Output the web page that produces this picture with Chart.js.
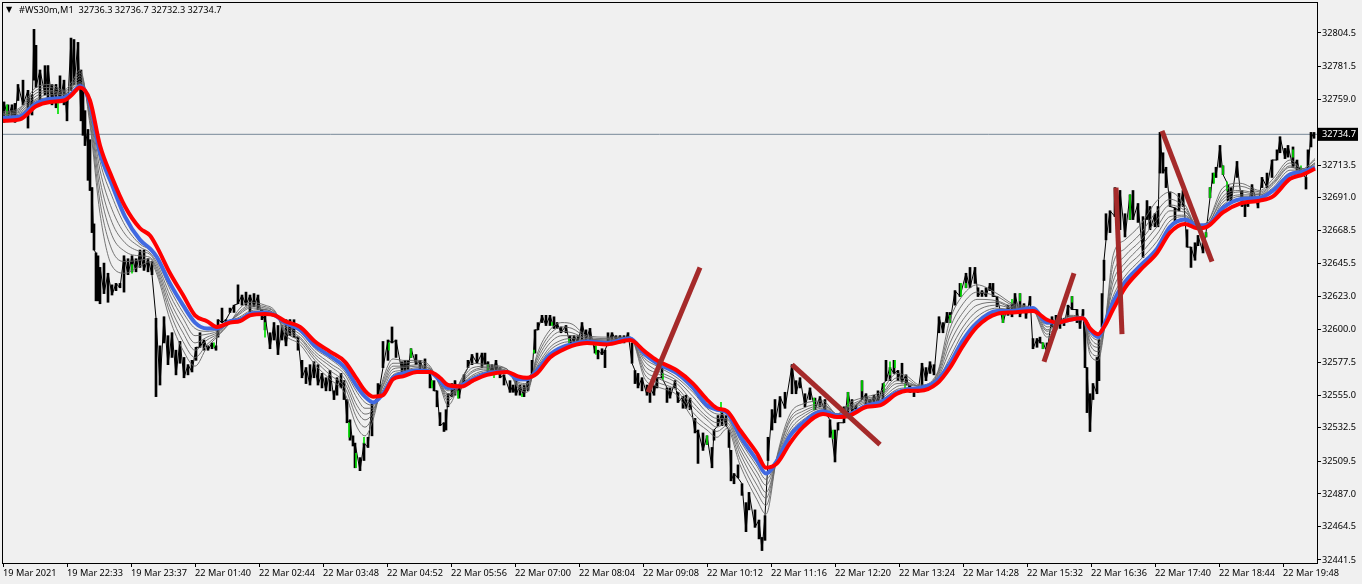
<!DOCTYPE html>
<html>
<head>
<meta charset="utf-8">
<title>#WS30m,M1</title>
<script src="https://cdn.jsdelivr.net/npm/chart.js@4"></script>
<style>
  html, body { margin: 0; padding: 0; background: #f0f0f0; }
  #wrap { width: 1362px; height: 584px; }
  canvas { display: block; }
</style>
</head>
<body>
<div id="wrap"><canvas id="chart"></canvas></div>
<script>
// symbol header
const headerText = '#WS30m,M1  32736.3 32736.7 32732.3 32734.7';
const lastPrice = 32734.7;

// axes
const priceTicks = [32804.5, 32781.5, 32759.0, 32734.7, 32713.5, 32691.0, 32668.5, 32645.5, 32623.0, 32600.0, 32577.5, 32555.0, 32532.5, 32509.5, 32487.0, 32464.5, 32441.5];
const timeTickBars = [3, 67, 131, 195, 259, 323, 387, 451, 515, 579, 643, 707, 771, 835, 899, 963, 1027, 1091, 1155, 1219, 1283];
const timeLabels = ['19 Mar 2021', '19 Mar 22:33', '19 Mar 23:37', '22 Mar 01:40', '22 Mar 02:44', '22 Mar 03:48', '22 Mar 04:52', '22 Mar 05:56', '22 Mar 07:00', '22 Mar 08:04', '22 Mar 09:08', '22 Mar 10:12', '22 Mar 11:16', '22 Mar 12:20', '22 Mar 13:24', '22 Mar 14:28', '22 Mar 15:32', '22 Mar 16:36', '22 Mar 17:40', '22 Mar 18:44', '22 Mar 19:48'];

// price bars (bar number, high, low)
const barX = [4,8,12,15,18,23,28,32,34,36,40,45,48,52,56,60,64,67,71,74,78,81,83,85,88,90,92,94,96,98,100,104,108,112,116,120,124,128,132,136,140,144,148,152,156,160,164,168,172,176,180,184,188,192,196,200,204,208,212,216,218,222,226,230,234,238,242,246,250,254,258,262,265,270,274,278,282,286,290,294,298,302,306,310,314,318,322,326,330,334,337,341,344,347,350,353,355,360,364,368,372,378,380,383,388,392,396,402,405,408,411,416,420,425,430,434,437,440,444,446,448,452,455,459,464,468,472,477,482,485,488,492,496,500,504,510,513,516,520,524,528,532,535,538,542,546,550,554,557,561,566,570,574,578,582,586,590,595,598,602,605,608,612,616,620,624,628,632,635,638,642,647,650,654,657,662,667,670,675,678,683,686,690,695,698,703,707,712,714,718,722,726,729,731,734,738,742,746,749,755,759,762,765,768,772,775,780,785,792,796,800,805,810,815,820,825,830,835,838,844,848,852,856,862,866,870,874,878,883,886,890,894,898,902,906,910,914,918,922,926,930,934,939,943,947,950,955,960,966,970,975,978,982,986,990,993,997,1003,1008,1012,1015,1020,1024,1026,1030,1033,1037,1040,1043,1047,1052,1056,1060,1064,1068,1072,1077,1080,1083,1085,1087,1090,1093,1097,1099,1102,1104,1106,1110,1115,1120,1125,1130,1133,1138,1143,1147,1150,1155,1158,1160,1163,1166,1170,1175,1179,1183,1187,1191,1195,1198,1203,1206,1210,1213,1216,1220,1223,1228,1231,1237,1242,1245,1248,1252,1258,1262,1267,1272,1277,1280,1285,1288,1293,1297,1300,1306,1308,1311,1314];
const barHigh = [32757,32755,32755,32756,32769,32772,32765,32762,32807,32796,32779,32782,32782,32769,32769,32775,32772,32762,32801,32800,32798,32779,32765,32751,32738,32731,32698,32673,32653,32651,32643,32646,32639,32631,32632,32632,32651,32649,32651,32649,32655,32655,32649,32647,32608,32589,32609,32596,32598,32586,32592,32581,32576,32579,32588,32598,32593,32589,32591,32589,32607,32615,32607,32615,32617,32631,32624,32626,32624,32625,32624,32614,32610,32598,32605,32603,32603,32607,32607,32607,32595,32579,32574,32576,32578,32576,32570,32567,32572,32558,32567,32570,32565,32552,32538,32527,32522,32512,32522,32526,32549,32563,32562,32592,32593,32602,32593,32578,32579,32579,32587,32583,32579,32580,32570,32565,32558,32543,32536,32545,32556,32563,32565,32560,32569,32579,32583,32584,32584,32584,32578,32576,32579,32574,32569,32565,32562,32565,32562,32562,32567,32579,32600,32605,32610,32610,32610,32609,32605,32602,32603,32596,32596,32596,32605,32600,32601,32589,32586,32587,32586,32598,32598,32596,32596,32596,32598,32591,32572,32570,32567,32562,32560,32562,32567,32576,32560,32560,32565,32557,32554,32555,32553,32539,32531,32529,32527,32519,32531,32541,32543,32541,32531,32517,32501,32507,32494,32481,32488,32476,32469,32457,32472,32526,32545,32552,32554,32557,32576,32565,32567,32556,32560,32553,32554,32552,32538,32531,32536,32547,32557,32552,32548,32565,32556,32552,32555,32558,32563,32579,32574,32579,32572,32577,32569,32562,32558,32560,32577,32574,32578,32576,32609,32605,32612,32612,32627,32632,32639,32643,32643,32629,32627,32629,32632,32632,32623,32612,32617,32618,32625,32625,32618,32614,32623,32594,32594,32595,32591,32591,32609,32610,32610,32608,32617,32623,32614,32609,32614,32605,32574,32556,32563,32581,32593,32625,32648,32680,32682,32698,32696,32680,32693,32696,32687,32678,32689,32685,32680,32685,32736,32722,32712,32695,32684,32694,32696,32669,32657,32660,32665,32660,32667,32698,32708,32712,32727,32713,32700,32698,32716,32696,32687,32689,32700,32691,32705,32708,32717,32724,32733,32725,32727,32726,32717,32712,32705,32724,32736,32736];
const barLow = [32743,32746,32745,32743,32758,32755,32739,32748,32772,32767,32758,32762,32758,32755,32753,32758,32755,32744,32765,32769,32769,32744,32734,32727,32703,32696,32667,32655,32620,32620,32618,32625,32619,32624,32627,32629,32626,32638,32640,32640,32643,32641,32640,32638,32554,32562,32591,32576,32581,32569,32577,32567,32569,32571,32579,32588,32586,32586,32587,32586,32595,32605,32603,32612,32612,32618,32617,32617,32612,32616,32614,32607,32600,32587,32593,32583,32593,32589,32596,32595,32586,32567,32563,32562,32567,32562,32560,32558,32558,32552,32555,32560,32552,32536,32524,32520,32505,32503,32510,32519,32527,32554,32555,32574,32579,32591,32581,32571,32571,32572,32581,32576,32571,32570,32560,32558,32547,32534,32530,32531,32547,32554,32555,32553,32562,32574,32576,32577,32574,32576,32571,32569,32572,32567,32562,32557,32557,32555,32555,32554,32558,32570,32584,32600,32605,32603,32603,32601,32601,32598,32598,32589,32589,32591,32593,32593,32593,32584,32580,32583,32574,32591,32591,32593,32591,32591,32593,32577,32563,32560,32558,32555,32550,32555,32560,32567,32550,32553,32560,32550,32546,32546,32545,32529,32508,32517,32521,32505,32524,32534,32534,32534,32519,32496,32494,32498,32486,32461,32476,32464,32456,32448,32455,32510,32531,32536,32540,32546,32556,32556,32560,32547,32552,32545,32547,32543,32526,32509,32531,32536,32543,32543,32543,32552,32547,32548,32548,32549,32551,32565,32565,32570,32565,32564,32562,32557,32554,32557,32560,32565,32570,32569,32598,32598,32605,32605,32617,32623,32629,32629,32632,32623,32623,32623,32627,32623,32616,32605,32610,32609,32614,32609,32612,32608,32617,32587,32588,32591,32587,32585,32602,32600,32601,32603,32609,32614,32605,32601,32610,32574,32543,32530,32552,32556,32565,32602,32634,32662,32667,32678,32669,32664,32676,32676,32674,32650,32676,32669,32671,32671,32708,32708,32698,32685,32674,32682,32685,32657,32643,32648,32658,32653,32664,32691,32701,32705,32712,32707,32689,32687,32705,32685,32678,32685,32691,32684,32698,32698,32705,32717,32722,32718,32719,32712,32710,32708,32697,32710,32726,32732];

// bars that closed up on a new high, drawn green
const upX = [7,58,132,214,265,349,356,364,389,411,432,458,488,494,522,534,552,569,596,663,707,721,814,833,848,862,884,890,895,905,950,961,966,1003,1012,1020,1043,1072,1130,1206,1210,1214,1223,1227,1293,1301];
const upHigh = [32755,32756,32645,32591,32605,32536,32515,32526,32591,32587,32565,32558,32576,32569,32556,32586,32605,32594,32589,32570,32527,32550,32553,32531,32557,32565,32563,32578,32579,32563,32610,32632,32632,32610,32621,32625,32591,32623,32693,32667,32698,32708,32713,32702,32724,32713];
const upLow = [32746,32749,32639,32588,32595,32526,32505,32522,32586,32581,32560,32553,32572,32567,32554,32584,32603,32591,32583,32566,32521,32543,32545,32525,32547,32558,32557,32569,32574,32560,32605,32623,32629,32605,32618,32620,32587,32619,32676,32664,32691,32701,32707,32696,32719,32709];

// moving average ribbon, sampled on the same bar numbers
const maX = [3,20,36,50,64,72,80,90,100,112,125,140,150,157,170,183,195,207,217,230,240,250,265,275,285,300,315,330,345,357,365,373,383,393,403,417,430,440,448,462,473,487,507,518,527,537,550,562,572,587,607,630,645,657,677,693,707,717,727,740,757,766,777,790,803,823,837,850,867,880,897,907,920,937,950,963,977,997,1013,1033,1047,1057,1070,1083,1090,1098,1105,1113,1125,1140,1157,1170,1185,1197,1207,1223,1240,1260,1273,1290,1303,1315];
const maRed = [32744,32745,32754,32757,32758,32762,32767,32758,32727,32705,32685,32670,32665,32657,32639,32624,32610,32606,32602,32605,32606,32610,32611,32610,32606,32602,32592,32585,32578,32566,32558,32554,32555,32566,32568,32571,32571,32567,32562,32561,32565,32569,32571,32568,32567,32570,32581,32586,32589,32591,32590,32593,32585,32579,32572,32563,32552,32546,32544,32531,32515,32505,32508,32522,32533,32542,32540,32541,32547,32548,32556,32558,32558,32563,32574,32589,32602,32611,32612,32613,32607,32605,32607,32608,32601,32597,32603,32614,32629,32641,32653,32667,32673,32670,32671,32681,32687,32689,32692,32704,32707,32711];
const maBlue = [32746,32747,32756,32759,32760,32763,32768,32756,32722,32700,32678,32662,32656,32650,32632,32617,32605,32601,32601,32606,32607,32611,32612,32610,32605,32600,32589,32582,32574,32561,32554,32550,32556,32567,32570,32572,32571,32565,32560,32562,32566,32570,32571,32566,32566,32572,32583,32588,32590,32592,32591,32594,32583,32577,32570,32560,32548,32545,32543,32527,32510,32501,32510,32527,32536,32544,32541,32542,32548,32550,32557,32559,32560,32565,32577,32593,32605,32613,32613,32615,32605,32605,32607,32608,32600,32595,32605,32619,32633,32644,32656,32671,32676,32672,32672,32684,32690,32691,32696,32707,32709,32712];
const fan1 = [32746,32748,32758,32760,32761,32764,32770,32754,32716,32692,32672,32659,32655,32648,32628,32612,32601,32599,32600,32606,32608,32612,32613,32610,32604,32599,32587,32580,32571,32557,32550,32548,32557,32569,32571,32573,32572,32564,32558,32563,32568,32571,32571,32565,32565,32574,32586,32591,32592,32593,32592,32594,32580,32575,32567,32557,32546,32542,32541,32524,32506,32497,32510,32529,32538,32545,32541,32543,32549,32551,32559,32560,32560,32565,32581,32598,32609,32615,32614,32615,32604,32605,32607,32608,32597,32593,32605,32623,32637,32648,32661,32675,32678,32672,32672,32686,32692,32692,32697,32708,32709,32713];
const fan2 = [32747,32749,32759,32762,32762,32766,32771,32751,32710,32683,32666,32657,32653,32646,32624,32608,32596,32597,32599,32606,32609,32613,32614,32611,32603,32597,32585,32577,32569,32553,32546,32546,32559,32571,32572,32574,32572,32564,32556,32563,32569,32572,32572,32564,32563,32575,32588,32593,32594,32593,32592,32594,32578,32572,32565,32554,32543,32539,32539,32521,32502,32493,32511,32531,32540,32546,32541,32545,32550,32552,32561,32562,32561,32566,32586,32602,32613,32617,32615,32615,32602,32604,32608,32608,32595,32590,32605,32628,32642,32652,32666,32678,32679,32672,32672,32688,32693,32693,32698,32710,32710,32714];
const fan3 = [32748,32750,32761,32764,32762,32767,32773,32749,32703,32674,32660,32654,32652,32644,32620,32603,32591,32595,32598,32606,32611,32615,32614,32611,32602,32595,32583,32575,32566,32548,32542,32545,32561,32573,32574,32575,32573,32563,32555,32564,32571,32573,32572,32563,32562,32577,32591,32596,32596,32594,32593,32594,32575,32570,32563,32550,32540,32536,32538,32518,32498,32488,32511,32534,32542,32547,32541,32546,32551,32553,32563,32563,32561,32567,32591,32607,32617,32619,32615,32615,32600,32604,32608,32608,32592,32588,32604,32633,32646,32657,32671,32682,32681,32672,32673,32690,32695,32693,32700,32712,32710,32715];
const fan4 = [32748,32751,32763,32765,32763,32768,32775,32747,32696,32665,32654,32651,32650,32642,32616,32598,32586,32593,32597,32606,32612,32616,32615,32612,32600,32594,32581,32572,32563,32544,32538,32543,32562,32575,32575,32576,32573,32563,32553,32565,32572,32574,32572,32562,32560,32579,32594,32599,32598,32594,32593,32595,32572,32567,32560,32547,32538,32533,32536,32515,32493,32484,32512,32537,32544,32548,32542,32547,32552,32554,32565,32564,32561,32568,32596,32612,32621,32620,32616,32614,32599,32604,32609,32608,32590,32585,32604,32638,32651,32661,32676,32686,32682,32672,32673,32692,32696,32694,32701,32713,32710,32715];
const fan5 = [32749,32752,32765,32767,32764,32769,32777,32744,32688,32655,32647,32648,32649,32640,32612,32592,32581,32590,32596,32605,32613,32617,32616,32612,32599,32592,32579,32569,32560,32539,32533,32541,32564,32577,32577,32578,32574,32562,32551,32566,32574,32575,32573,32561,32559,32581,32597,32602,32601,32595,32594,32595,32569,32564,32558,32543,32534,32530,32534,32511,32488,32479,32512,32539,32546,32549,32542,32548,32553,32555,32567,32566,32561,32569,32601,32618,32626,32623,32617,32614,32597,32603,32609,32608,32586,32582,32604,32645,32656,32666,32682,32690,32684,32672,32674,32695,32699,32695,32702,32715,32711,32717];
const fan6 = [32750,32753,32767,32769,32765,32771,32779,32741,32680,32644,32639,32644,32647,32638,32607,32586,32575,32588,32595,32605,32615,32619,32617,32613,32597,32590,32576,32566,32556,32533,32527,32538,32566,32580,32579,32579,32575,32561,32548,32567,32577,32576,32573,32560,32557,32583,32600,32605,32604,32596,32595,32595,32566,32561,32555,32539,32531,32526,32532,32507,32483,32473,32513,32542,32549,32551,32542,32550,32554,32557,32570,32568,32562,32570,32607,32624,32631,32625,32618,32614,32595,32603,32610,32608,32583,32579,32604,32651,32662,32672,32689,32695,32686,32672,32674,32698,32701,32696,32704,32717,32711,32718];

// hand drawn trend lines: bar numbers and prices at both ends
const trendBars = [[648, 700], [792, 880], [1044, 1074], [1116, 1122], [1162, 1212]];
const trendPrices = [[32557, 32643], [32576, 32521], [32578, 32639], [32698, 32597], [32737, 32647]];

const toPoints = (xs, ys) => xs.map((x, i) => ({ x: x, y: ys[i] }));
const toBars = (xs, highs, lows) => xs.map((x, i) => ({ x: x, y: [lows[i], highs[i]] }));
// path through the bars, going high, low, high, low so that they join up
const toTrace = (xs, highs, lows) => xs.map((x, i) => ({ x: x, y: i % 2 ? lows[i] : highs[i] }));

const fanLine = (values) => ({
    type: 'line',
    data: toPoints(maX, values),
    borderColor: '#666666',
    borderWidth: 0.9,
    pointRadius: 0,
    cubicInterpolationMode: 'monotone',
    order: 4
});

const datasets = [
    {
        // last price line
        type: 'line',
        data: [{ x: 2, y: lastPrice }, { x: 1317, y: lastPrice }],
        borderColor: '#778899',
        borderWidth: 1,
        pointRadius: 0,
        order: 8
    },
    {
        type: 'line',
        data: toTrace(barX, barHigh, barLow),
        borderColor: '#000000',
        borderWidth: 1,
        pointRadius: 0,
        order: 7
    },
    { type: 'bar', data: toBars(barX, barHigh, barLow), backgroundColor: '#000000', barThickness: 2, grouped: false, order: 6 },
    { type: 'bar', data: toBars(upX, upHigh, upLow), backgroundColor: '#00e000', barThickness: 1, grouped: false, order: 5 },
    fanLine(fan1), fanLine(fan2), fanLine(fan3), fanLine(fan4), fanLine(fan5), fanLine(fan6),
    {
        type: 'line',
        data: toPoints(maX, maBlue),
        borderColor: '#4169e1',
        borderWidth: 4,
        pointRadius: 0,
        cubicInterpolationMode: 'monotone',
        order: 3
    },
    {
        type: 'line',
        data: toPoints(maX, maRed),
        borderColor: '#ff0000',
        borderWidth: 4,
        pointRadius: 0,
        cubicInterpolationMode: 'monotone',
        order: 2
    }
];

trendBars.forEach((bars, i) => {
    datasets.push({
        type: 'line',
        data: toPoints(bars, trendPrices[i]),
        borderColor: '#a52a2a',
        borderWidth: 5,
        pointRadius: 0,
        order: 1
    });
});

// black frame and the symbol line top left
const framePlugin = {
    id: 'frame',
    afterDraw(chart) {
        const { ctx, chartArea: a } = chart;
        ctx.save();
        ctx.strokeStyle = '#000000';
        ctx.lineWidth = 1;
        ctx.strokeRect(a.left + 0.5, a.top + 0.5, a.right - a.left, a.bottom - a.top);
        ctx.fillStyle = '#000000';
        ctx.textBaseline = 'middle';
        ctx.font = '8px "DejaVu Sans"';
        ctx.fillText('▼', 6, 10);
        ctx.font = '9.2px "Noto Sans"';
        ctx.fillText(headerText, 19, 10);
        ctx.restore();
    }
};

const axisFont = { family: 'Noto Sans', size: 9.2 };

new Chart(document.getElementById('chart'), {
    type: 'line',
    data: { datasets: datasets },
    plugins: [framePlugin],
    options: {
        responsive: true,
        maintainAspectRatio: false,
        animation: false,
        layout: { padding: { left: 2, top: 2, right: 0, bottom: 0 } },
        plugins: { legend: { display: false }, tooltip: { enabled: false } },
        scales: {
            x: {
                type: 'linear',
                offset: false,
                min: 2,
                max: 1317,
                afterBuildTicks: (axis) => { axis.ticks = timeTickBars.map(v => ({ value: v })); },
                afterFit: (axis) => { axis.height = 21; axis.paddingLeft = 0; axis.paddingRight = 0; },
                border: { display: false },
                grid: { offset: false, drawOnChartArea: false, drawTicks: true, tickLength: 4, tickColor: '#000000' },
                ticks: {
                    autoSkip: false,
                    maxRotation: 0,
                    align: 'start',
                    padding: 1,
                    color: '#000000',
                    font: axisFont,
                    callback: (v) => timeLabels[timeTickBars.indexOf(v)]
                }
            },
            y: {
                position: 'right',
                min: 32439.4,
                max: 32825.85,
                afterBuildTicks: (axis) => { axis.ticks = priceTicks.map(v => ({ value: v })); },
                afterFit: (axis) => { axis.width = 45; axis.paddingTop = 0; axis.paddingBottom = 0; },
                border: { display: false },
                grid: { drawOnChartArea: false, drawTicks: true, tickLength: 4, tickColor: '#000000' },
                ticks: {
                    autoSkip: false,
                    padding: 1,
                    font: axisFont,
                    color: (ctx) => ctx.tick && ctx.tick.value === lastPrice ? '#ffffff' : '#000000',
                    showLabelBackdrop: (ctx) => !!ctx.tick && ctx.tick.value === lastPrice,
                    backdropColor: '#000000',
                    backdropPadding: { left: 4, right: 2, top: 1, bottom: 1 },
                    callback: (v) => v.toFixed(1)
                }
            }
        }
    }
});
</script>
</body>
</html>
